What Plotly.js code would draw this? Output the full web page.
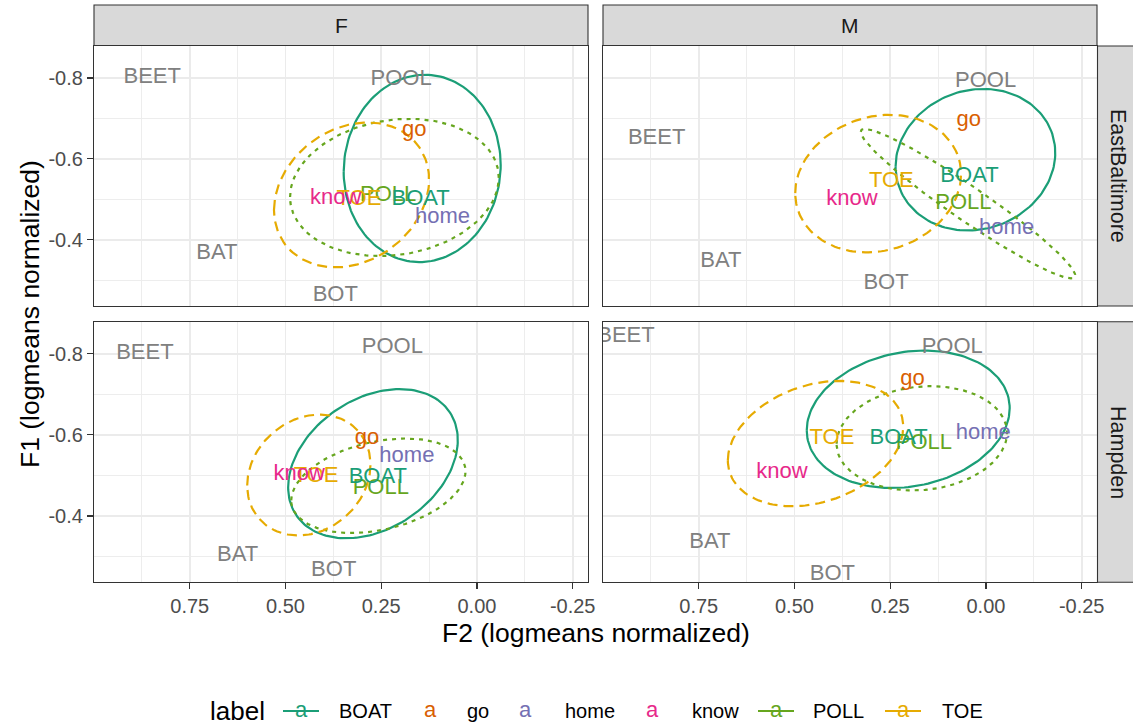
<!DOCTYPE html>
<html>
<head>
<meta charset="utf-8">
<script src="https://cdn.plot.ly/plotly-3.0.1.min.js"></script>
<style>html,body{margin:0;padding:0;background:#fff;}#chart{width:1133px;height:725px;}</style>
</head>
<body>
<div id="chart"></div>
<script>
// ---------- data ----------
const sexes = ['F', 'M'];
const dialects = ['EastBaltimore', 'Hampden'];
const words = ['BEET', 'POOL', 'go', 'POLL', 'BOAT', 'TOE', 'know', 'home', 'BAT', 'BOT'];

// F2 / F1 (logmeans normalized) of each word label, per panel
const f2_F_EB = [0.848, 0.198, 0.164, 0.232, 0.147, 0.308, 0.369, 0.090, 0.679, 0.370];
const f1_F_EB = [-0.8015, -0.7955, -0.671, -0.5105, -0.5005, -0.5005, -0.5025, -0.4545, -0.3665, -0.2635];
const f2_M_EB = [0.860, 0.001, 0.045, 0.059, 0.043, 0.247, 0.350, -0.054, 0.692, 0.261];
const f1_M_EB = [-0.6515, -0.7915, -0.694, -0.4895, -0.5555, -0.5435, -0.5005, -0.4275, -0.3465, -0.2925];
const f2_F_H = [0.867, 0.221, 0.287, 0.251, 0.259, 0.420, 0.464, 0.183, 0.625, 0.374];
const f1_F_H = [-0.8015, -0.8155, -0.590, -0.4685, -0.4955, -0.4975, -0.5015, -0.5465, -0.3025, -0.2645];
const f2_M_H = [0.940, 0.088, 0.192, 0.162, 0.228, 0.402, 0.533, 0.007, 0.721, 0.401];
const f1_M_H = [-0.8425, -0.8165, -0.736, -0.5795, -0.5905, -0.5905, -0.5075, -0.6035, -0.3355, -0.2545];

// ellipses (stat_ellipse): centre, half-extent in F2 and F1, tilt phase (deg)
const ellPanel = ['F_EB','F_EB','F_EB','M_EB','M_EB','M_EB','F_H','F_H','F_H','M_H','M_H','M_H'];
const ellWord  = ['BOAT','POLL','TOE','BOAT','POLL','TOE','BOAT','POLL','TOE','BOAT','POLL','TOE'];
const ellCx  = [0.143, 0.2155, 0.3275, 0.0275, 0.047, 0.2815, 0.2715, 0.2575, 0.439, 0.203, 0.1675, 0.445];
const ellCy  = [-0.5765, -0.5295, -0.511, -0.598, -0.4895, -0.539, -0.529, -0.4745, -0.501, -0.6385, -0.5915, -0.5785];
const ellWx  = [0.205, 0.2725, 0.2025, 0.2085, 0.280, 0.2165, 0.2215, 0.2275, 0.161, 0.265, 0.2225, 0.229];
const ellWy  = [0.2315, 0.1695, 0.179, 0.175, 0.1845, 0.170, 0.184, 0.1165, 0.149, 0.1695, 0.1285, 0.1545];
const ellPhi = [88, 82, 78, 84.4, 164, 82, 71.6, 72, 80, 80.7, 84, 74.4];

const xTickVals = [0.75, 0.5, 0.25, 0, -0.25];
const xTickText = ['0.75', '0.50', '0.25', '0.00', '-0.25'];
const xMinor = [0.875, 0.625, 0.375, 0.125, -0.125];
const yTickVals = [-0.8, -0.6, -0.4];
const yTickText = ['-0.8', '-0.6', '-0.4'];
const yMinor = [-0.7, -0.5, -0.3];

const legendWords = ['BOAT', 'go', 'home', 'know', 'POLL', 'TOE'];

// ---------- styles ----------
const wordColor = {BOAT:'#1B9E77', go:'#D95F02', home:'#7570B3', know:'#E7298A', POLL:'#66A61E', TOE:'#E6AB02'};
const greyLabel = '#808080';
const dashOf = {BOAT:'solid', POLL:'4px,5px', TOE:'10px,6px'};
const FONT = 'Liberation Sans, Arial, Helvetica, sans-serif';
const W = 1133, H = 725;
const px = v => v / W;
const py = v => 1 - v / H;

const panelAxes = {
  F_EB: ['x', 'y'], M_EB: ['x2', 'y2'], F_H: ['x3', 'y3'], M_H: ['x4', 'y4']
};
const panelData = {
  F_EB: [f2_F_EB, f1_F_EB], M_EB: [f2_M_EB, f1_M_EB], F_H: [f2_F_H, f1_F_H], M_H: [f2_M_H, f1_M_H]
};

const traces = [];
// ellipses
for (let i = 0; i < ellPanel.length; i++) {
  const xs = [], ys = [];
  const phi = ellPhi[i] * Math.PI / 180;
  for (let k = 0; k <= 160; k++) {
    const t = 2 * Math.PI * k / 160;
    xs.push(ellCx[i] + ellWx[i] * Math.cos(t));
    ys.push(ellCy[i] + ellWy[i] * Math.cos(t + phi));
  }
  const ax = panelAxes[ellPanel[i]];
  traces.push({
    type: 'scatter', mode: 'lines', x: xs, y: ys, xaxis: ax[0], yaxis: ax[1],
    line: {color: wordColor[ellWord[i]], width: 2.2, dash: dashOf[ellWord[i]]},
    showlegend: false, hoverinfo: 'skip', cliponaxis: true
  });
}
// text labels
Object.keys(panelData).forEach(p => {
  const ax = panelAxes[p];
  traces.push({
    type: 'scatter', mode: 'text', x: panelData[p][0], y: panelData[p][1],
    text: words, textposition: 'middle center',
    textfont: {family: FONT, size: 22, color: words.map(w => wordColor[w] || greyLabel)},
    xaxis: ax[0], yaxis: ax[1], showlegend: false, hoverinfo: 'skip', cliponaxis: true
  });
});

// ---------- axes ----------
const xDomL = [px(94), px(588)], xDomR = [px(603), px(1097)];
const yDomT = [py(306), py(46)], yDomB = [py(582.3), py(321.7)];
const xRange = [1.0, -0.29], yRange = [-0.2365, -0.879];

function xAxis(dom, anchor, showLabels) {
  return {
    domain: dom, anchor: anchor, range: xRange, autorange: false,
    tickmode: 'array', tickvals: xTickVals, ticktext: xTickText,
    showticklabels: showLabels, ticks: showLabels ? 'outside' : '', ticklen: 6, tickwidth: 1.1, tickcolor: '#333333',
    tickfont: {family: FONT, size: 20, color: '#4D4D4D'},
    showgrid: true, gridcolor: '#EBEBEB', gridwidth: 1.7,
    minor: {tickmode: 'array', tickvals: xMinor, showgrid: true, gridcolor: '#EBEBEB', gridwidth: 0.9, ticks: ''},
    zeroline: false, showline: true, mirror: true, linecolor: '#333333', linewidth: 1.1,
    fixedrange: true
  };
}
function yAxis(dom, anchor, showLabels) {
  return {
    domain: dom, anchor: anchor, range: yRange, autorange: false,
    tickmode: 'array', tickvals: yTickVals, ticktext: yTickText,
    showticklabels: showLabels, ticks: showLabels ? 'outside' : '', ticklen: 6, tickwidth: 1.1, tickcolor: '#333333',
    tickfont: {family: FONT, size: 20, color: '#4D4D4D'},
    showgrid: true, gridcolor: '#EBEBEB', gridwidth: 1.7,
    minor: {tickmode: 'array', tickvals: yMinor, showgrid: true, gridcolor: '#EBEBEB', gridwidth: 0.9, ticks: ''},
    zeroline: false, showline: true, mirror: true, linecolor: '#333333', linewidth: 1.1,
    fixedrange: true
  };
}

// ---------- strips, titles, legend ----------
const shapes = [], annotations = [];
const stripFill = '#D9D9D9', stripLine = '#333333';
// top strips
[[94, 588], [603, 1097]].forEach((xs, i) => {
  shapes.push({type: 'rect', xref: 'paper', yref: 'paper', x0: px(xs[0]), x1: px(xs[1]), y0: py(45.5), y1: py(5),
    fillcolor: stripFill, line: {color: stripLine, width: 1.1}, layer: 'above'});
  annotations.push({xref: 'paper', yref: 'paper', x: px((xs[0] + xs[1]) / 2), y: py(25.5), text: sexes[i],
    showarrow: false, xanchor: 'center', yanchor: 'middle', font: {family: FONT, size: 21, color: '#1A1A1A'}});
});
// right strips
[[46, 306], [321.7, 582.3]].forEach((ys, i) => {
  shapes.push({type: 'rect', xref: 'paper', yref: 'paper', x0: px(1097.5), x1: px(1145), y0: py(ys[1]), y1: py(ys[0]),
    fillcolor: stripFill, line: {color: stripLine, width: 1.1}, layer: 'above'});
  annotations.push({xref: 'paper', yref: 'paper', x: px(1118), y: py((ys[0] + ys[1]) / 2), text: dialects[i],
    showarrow: false, textangle: 90, xanchor: 'center', yanchor: 'middle', font: {family: FONT, size: 21.5, color: '#1A1A1A'}});
});
// axis titles
annotations.push({xref: 'paper', yref: 'paper', x: px(595.5), y: py(633), text: 'F2 (logmeans normalized)',
  showarrow: false, xanchor: 'center', yanchor: 'middle', font: {family: FONT, size: 26.5, color: '#000000'}});
annotations.push({xref: 'paper', yref: 'paper', x: px(30), y: py(314), text: 'F1 (logmeans normalized)',
  showarrow: false, textangle: -90, xanchor: 'center', yanchor: 'middle', font: {family: FONT, size: 26.5, color: '#000000'}});
// legend
const legY = 711;
annotations.push({xref: 'paper', yref: 'paper', x: px(208), y: py(legY), text: 'label', showarrow: false,
  xanchor: 'left', yanchor: 'middle', font: {family: FONT, size: 26, color: '#000000'}});
const keyX = [301, 430, 525, 652, 776, 903];
const labX = [337, 465, 563, 690, 811, 940];
legendWords.forEach((w, i) => {
  if (dashOf[w]) {
    shapes.push({type: 'line', xref: 'paper', yref: 'paper', x0: px(keyX[i] - 18), x1: px(keyX[i] + 18),
      y0: py(legY), y1: py(legY), line: {color: wordColor[w], width: 2.2}});
  }
  annotations.push({xref: 'paper', yref: 'paper', x: px(keyX[i]), y: py(legY - 1.5), text: 'a', showarrow: false,
    xanchor: 'center', yanchor: 'middle', font: {family: FONT, size: 22, color: wordColor[w]}});
  annotations.push({xref: 'paper', yref: 'paper', x: px(labX[i]), y: py(legY), text: w, showarrow: false,
    xanchor: 'left', yanchor: 'middle', font: {family: FONT, size: 20, color: '#000000'}});
});

const layout = {
  width: W, height: H, margin: {l: 0, r: 0, t: 0, b: 0, pad: 0},
  paper_bgcolor: '#FFFFFF', plot_bgcolor: '#FFFFFF', showlegend: false,
  font: {family: FONT},
  xaxis: xAxis(xDomL, 'y', false), yaxis: yAxis(yDomT, 'x', true),
  xaxis2: xAxis(xDomR, 'y2', false), yaxis2: yAxis(yDomT, 'x2', false),
  xaxis3: xAxis(xDomL, 'y3', true), yaxis3: yAxis(yDomB, 'x3', true),
  xaxis4: xAxis(xDomR, 'y4', true), yaxis4: yAxis(yDomB, 'x4', false),
  shapes: shapes, annotations: annotations
};

Plotly.newPlot('chart', traces, layout, {staticPlot: true, displayModeBar: false});
</script>
</body>
</html>
